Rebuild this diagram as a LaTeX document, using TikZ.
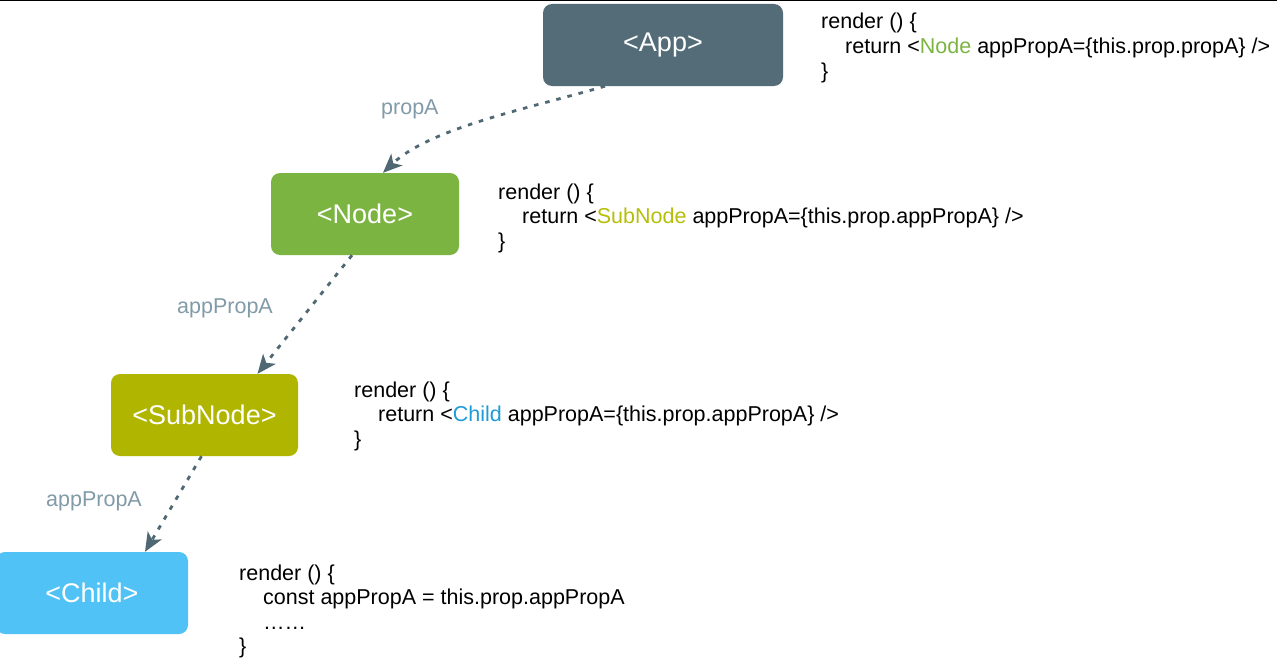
\documentclass[tikz,border=0pt]{standalone}
\usepackage{fontspec}
\setmainfont{Liberation Sans}
\usetikzlibrary{arrows.meta}

\definecolor{appfill}{RGB}{83,108,120}
\definecolor{nodefill}{RGB}{124,180,66}
\definecolor{subfill}{RGB}{176,182,0}
\definecolor{childfill}{RGB}{80,194,246}
\definecolor{subtext}{RGB}{182,190,10}
\definecolor{childtext}{RGB}{30,155,215}
\definecolor{proplabel}{RGB}{130,155,168}
\definecolor{flow}{RGB}{80,104,116}

\tikzset{
  comp/.style={rectangle, rounded corners=9pt, inner sep=0pt,
    minimum height=82pt, text=white,
    font=\fontsize{27}{30}\selectfont},
  codeline/.style={anchor=base west, inner sep=0pt, text=black,
    font=\fontsize{21.5}{24}\selectfont},
  proplbl/.style={anchor=base west, inner sep=0pt, text=proplabel,
    font=\fontsize{21.5}{24}\selectfont},
  passes/.style={draw=flow, line width=2.8pt, dash pattern=on 4.5pt off 7pt,
    -{Stealth[length=19pt,width=16pt,inset=5pt]}},
}

\begin{document}
\begin{tikzpicture}[x=1pt,y=-1pt]
  \useasboundingbox (0,0) rectangle (1277,661);
  \fill[white] (0,0) rectangle (1277,661);
  \draw[black, line width=1.5pt] (0,0.5) -- (1277,0.5);

  % component boxes
  \node[comp, fill=appfill, minimum width=240pt] (app) at (663,45) {<App>};
  \node[comp, fill=nodefill, minimum width=188pt] (node) at (365,214) {<Node>};
  \node[comp, fill=subfill, minimum width=187pt] (sub) at (204.5,415) {<SubNode>};
  \node[comp, fill=childfill, minimum width=192pt] (child) at (92,593) {<Child>};

  % render code beside each component
  \node[codeline] (a1) at (821,29) {render () \{};
  \node[codeline] (a2) at (845,53.5) {return <\textcolor{nodefill}{Node} appPropA=\{this.prop.propA\} />};
  \node[codeline] (a3) at (821,78) {\}};

  \node[codeline] (n1) at (498,199) {render () \{};
  \node[codeline] (n2) at (522,223.5) {return <\textcolor{subtext}{SubNode} appPropA=\{this.prop.appPropA\} />};
  \node[codeline] (n3) at (498,248) {\}};

  \node[codeline] (s1) at (354,397) {render () \{};
  \node[codeline] (s2) at (378,421.5) {return <\textcolor{childtext}{Child} appPropA=\{this.prop.appPropA\} />};
  \node[codeline] (s3) at (354,446) {\}};

  \node[codeline] (c1) at (239,580) {render () \{};
  \node[codeline] (c2) at (263,604.5) {const appPropA = this.prop.appPropA};
  \node[codeline] (c3) at (263,629) {……};
  \node[codeline] (c4) at (239,653) {\}};

  % prop labels
  \node[proplbl] (l1) at (381,114) {propA};
  \node[proplbl] (l2) at (177,313) {appPropA};
  \node[proplbl] (l3) at (46,506) {appPropA};

  % props passed down
  \draw[passes] ([xshift=-58pt]app.south) .. controls (530,108) and (430,128) .. ([xshift=18pt]node.north);
  \draw[passes] ([xshift=-13pt]node.south) -- ([xshift=53pt]sub.north);
  \draw[passes] ([xshift=-3pt]sub.south) -- ([xshift=53pt]child.north);
\end{tikzpicture}
\end{document}
